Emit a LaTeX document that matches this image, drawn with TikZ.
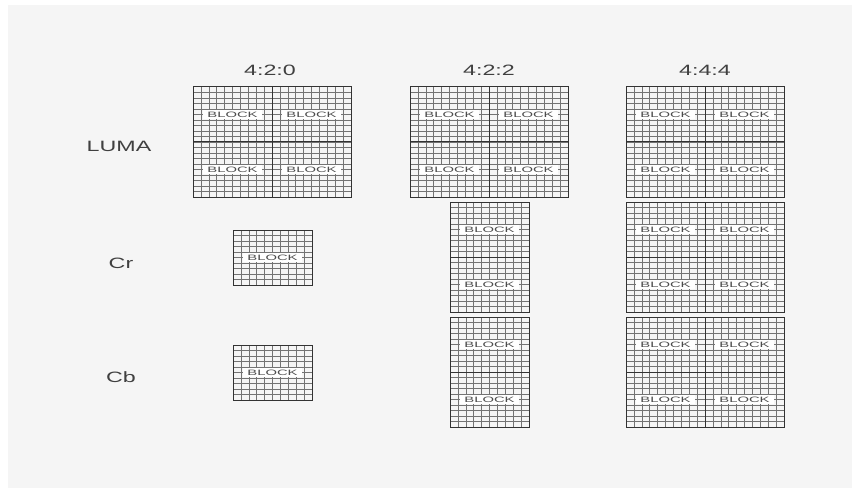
\documentclass[tikz,border=0pt]{standalone}
\usepackage{fontspec}
\setmainfont{Liberation Sans}

\tikzset{
	fine grid/.style={draw=black!55, line width=0.6pt},
	block edge/.style={draw=black!80, line width=1pt},
	block label/.style={fill=white, inner xsep=2.4pt, inner ysep=1.3pt, text=black!70,
		font=\fontsize{7.8}{8}\selectfont, xscale=1.9},
	head label/.style={text=black!75, font=\fontsize{15}{17}\selectfont, xscale=1.55},
}

% #1 name, #2 x, #3 y, #4 columns of blocks, #5 rows of blocks
\newcommand{\blockgroup}[5]{%
	\begin{scope}[shift={(#2,#3)}]
		\pgfmathtruncatemacro{\ncols}{10*#4}
		\pgfmathtruncatemacro{\nrows}{10*#5}
		\foreach \i in {1,...,\ncols} \draw[fine grid] ({\i*79/10},0) -- ({\i*79/10},{55*#5});
		\foreach \j in {1,...,\nrows} \draw[fine grid] (0,{\j*55/10}) -- ({79*#4},{\j*55/10});
		\draw[block edge] (0,0) rectangle ({79*#4},{55*#5});
		\foreach \c in {1,...,#4} \draw[block edge] ({79*\c},0) -- ({79*\c},{55*#5});
		\foreach \r in {1,...,#5} \draw[block edge] (0,{55*\r}) -- ({79*#4},{55*\r});
		\foreach \c in {1,...,#4} \foreach \r in {1,...,#5}
			\node[block label] (#1-\c-\r) at ({79*(\c-0.5)},{55*(\r-0.5)}) {BLOCK};
	\end{scope}
}

\begin{document}
\begin{tikzpicture}[x=1pt, y=-1pt]
	\useasboundingbox (0,0) rectangle (859,492);
	\fill[black!4] (8,5) rectangle (852,488);
	
	% column heads
	\node[head label] (h420) at (270,70) {4:2:0};
	\node[head label] (h422) at (489,70) {4:2:2};
	\node[head label] (h444) at (705,70) {4:4:4};
	
	% row heads
	\node[head label] (luma) at (119,146) {LUMA};
	\node[head label] (cr) at (121,263) {Cr};
	\node[head label] (cb) at (121,377) {Cb};
	
	% 4:2:0
	\blockgroup{ya}{193}{87}{2}{2}
	\blockgroup{cra}{233}{230}{1}{1}
	\blockgroup{cba}{233}{345}{1}{1}
	
	% 4:2:2
	\blockgroup{yb}{410}{87}{2}{2}
	\blockgroup{crb}{450}{202}{1}{2}
	\blockgroup{cbb}{450}{317}{1}{2}
	
	% 4:4:4
	\blockgroup{yc}{626}{87}{2}{2}
	\blockgroup{crc}{626}{202}{2}{2}
	\blockgroup{cbc}{626}{317}{2}{2}
	
\end{tikzpicture}
\end{document}
